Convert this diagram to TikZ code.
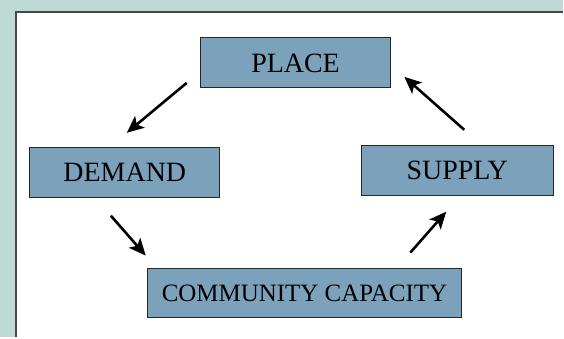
\documentclass[tikz,border=0pt]{standalone}
\usepackage{fontspec}
\setmainfont{Liberation Serif}
\usetikzlibrary{arrows.meta}
\definecolor{framegreen}{RGB}{189,218,212}
\definecolor{framerule}{RGB}{64,74,72}
\definecolor{boxblue}{RGB}{123,161,187}
\tikzset{
  stagebox/.style={draw=black!85, fill=boxblue, line width=1pt, inner sep=0pt,
    minimum width=190pt, minimum height=50pt, font=\fontsize{28}{30}\selectfont},
  flow/.style={-{Stealth[length=17pt,width=15pt,inset=4pt]}, line width=2.6pt}
}
\begin{document}
\begin{tikzpicture}[x=1pt,y=-1pt]
    %frame
    \fill[framegreen] (0,0) rectangle (564,338);
    \fill[white] (15,12) rectangle (564,338);
    \draw[line width=1.8pt, framerule] (15.9,338) -- (15.9,11.9) -- (564,11.9);

    %stages
    \node[stagebox] (place) at (296,63) {PLACE};
    \node[stagebox] (demand) at (125,173) {DEMAND};
    \node[stagebox, minimum width=192pt] (supply) at (458,171) {SUPPLY};
    \node[stagebox, minimum width=314pt, minimum height=49pt,
      font=\fontsize{25}{28}\selectfont] (capacity) at (305,293.5) {COMMUNITY CAPACITY};

    %cycle
    \coordinate (placeout) at (187,83);
    \coordinate (demandin) at (127,133);
    \coordinate (demandout) at (111,216);
    \coordinate (capacityin) at (146,256);
    \coordinate (capacityout) at (411,253);
    \coordinate (supplyin) at (447,212);
    \coordinate (supplyout) at (465,130);
    \coordinate (placein) at (405,77);
    \draw[flow] (placeout) -- (demandin);
    \draw[flow] (demandout) -- (capacityin);
    \draw[flow] (capacityout) -- (supplyin);
    \draw[flow] (supplyout) -- (placein);

    \useasboundingbox (0,0) rectangle (564,338);
\end{tikzpicture}
\end{document}
